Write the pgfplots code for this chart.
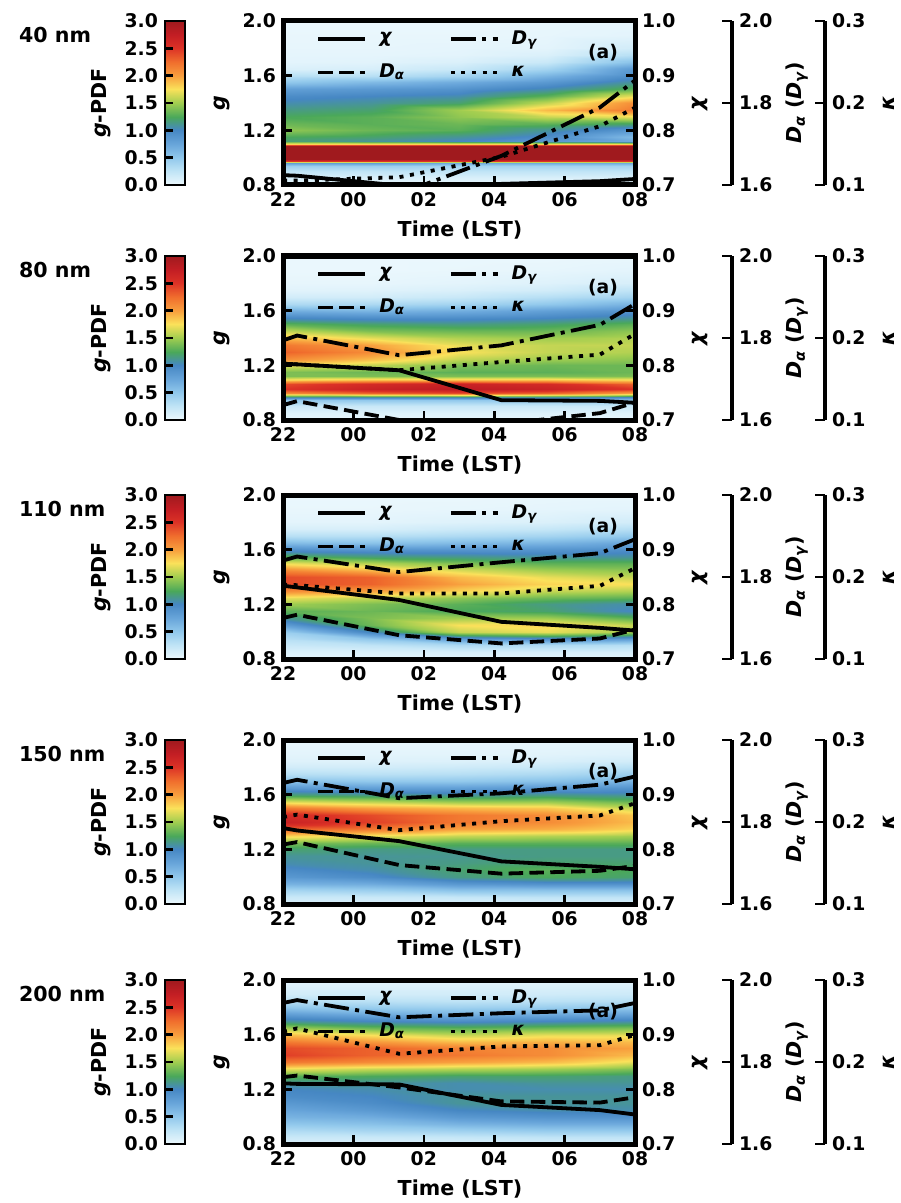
\documentclass[border=0pt]{standalone}
\usepackage{fontspec}
\setmainfont{DejaVu Sans}
\usepackage{pgfplots}
\pgfplotsset{compat=1.18}
\usepackage{pgfplotstable}

\newcommand\lab{\fontsize{10.3}{12}\selectfont\bfseries}
\newcommand\tck{\fontsize{9.4}{11}\selectfont\bfseries}

\pgfplotsset{
 colormap={gpdf}{rgb255=(236,248,253) rgb255=(192,228,246) rgb255=(146,201,236) rgb255=(104,165,218) rgb255=(70,135,195) rgb255=(74,168,90) rgb255=(160,205,80) rgb255=(250,225,90) rgb255=(248,160,62) rgb255=(240,110,45) rgb255=(220,50,38) rgb255=(195,30,36) rgb255=(160,26,30)},
 base/.style={scale only axis, width=176pt, height=82pt, xmin=0, xmax=10, anchor=south west},
 cbarpos/.style={scale only axis, width=10pt, height=82pt, xmin=0, xmax=1, anchor=south west},
 tk/.style={tick align=inside, major tick length=4.5pt, every tick/.style={black, line width=1.3pt}, tick label style={font=\tck}, /pgf/number format/assume math mode=true},
 onedec/.style={yticklabel style={/pgf/number format/.cd, fixed, fixed zerofill, precision=1, assume math mode=true}},
 mychi/.style={black, line width=1.9pt, solid},
 myda/.style={black, line width=1.9pt, dash pattern=on 7.2pt off 3.2pt},
 mydg/.style={black, line width=1.9pt, dash pattern=on 12.5pt off 3.2pt on 2pt off 3.2pt},
 mykap/.style={black, line width=1.9pt, dash pattern=on 2pt off 3.3pt},
 legend image code/.code={\draw[#1] (0pt,0pt) -- (23.5pt,0pt);},
}

\pgfplotstableread{
x y
0 0
1 0
0 0.25
1 0.25
0 0.5
1 0.5
0 0.75
1 0.75
0 1
1 1
0 1.25
1 1.25
0 1.5
1 1.5
0 1.75
1 1.75
0 2
1 2
0 2.25
1 2.25
0 2.5
1 2.5
0 2.75
1 2.75
0 3
1 3
}\cbartab

% ---- line data: t (h after 22 LST), chi, D_alpha, D_gamma, kappa
\pgfplotstableread{
t chi Da Dg k
0 0.718 1.55 1.55 0.1053
0.4 0.717 1.55 1.55 0.1053
3.3 0.699 1.55 1.578 0.1095
6.2 0.702 1.55 1.671 0.1343
9.0 0.707 1.55 1.789 0.1717
10 0.711 1.55 1.855 0.1943
}\linesA
\pgfplotstableread{
t chi Da Dg k
0 0.803 1.6363 1.794 0.1687
0.4 0.8018 1.646 1.806 0.1678
3.3 0.791 1.600 1.758 0.1607
6.2 0.7363 1.590 1.782 0.1707
9.0 0.735 1.6167 1.832 0.1797
10 0.7315 1.6427 1.883 0.205
}\linesB
\pgfplotstableread{
t chi Da Dg k
0 0.834 1.700 1.840 0.1908
0.4 0.831 1.708 1.850 0.1900
3.3 0.808 1.658 1.812 0.1800
6.2 0.768 1.638 1.836 0.1800
9.0 0.757 1.650 1.858 0.1892
10 0.752 1.672 1.892 0.2108
}\linesC
\pgfplotstableread{
t chi Da Dg k
0 0.839 1.745 1.895 0.206
0.4 0.8345 1.751 1.903 0.209
3.3 0.815 1.695 1.858 0.190
6.2 0.778 1.674 1.870 0.201
9.0 0.768 1.681 1.891 0.208
10 0.7635 1.693 1.911 0.223
}\linesD
\pgfplotstableread{
t chi Da Dg k
0 0.811 1.763 1.944 0.237
0.4 0.810 1.767 1.951 0.241
3.3 0.809 1.738 1.909 0.210
6.2 0.7715 1.704 1.919 0.219
9.0 0.762 1.701 1.926 0.2205
10 0.754 1.714 1.944 0.233
}\linesE

% ---- g-PDF fields: t g v
\pgfplotstableread{
t g v
0 0.80 0.05
2.5 0.80 0.05
5 0.80 0.05
7.5 0.80 0.05
10 0.80 0.05
0 0.85 0.10
2.5 0.85 0.10
5 0.85 0.10
7.5 0.85 0.10
10 0.85 0.10
0 0.90 0.25
2.5 0.90 0.25
5 0.90 0.25
7.5 0.90 0.25
10 0.90 0.25
0 0.94 0.45
2.5 0.94 0.45
5 0.94 0.40
7.5 0.94 0.40
10 0.94 0.40
0 0.96 0.80
2.5 0.96 0.80
5 0.96 0.70
7.5 0.96 0.70
10 0.96 0.70
0 0.975 2.5
2.5 0.975 2.5
5 0.975 2.5
7.5 0.975 2.5
10 0.975 2.5
0 0.99 3.8
2.5 0.99 3.8
5 0.99 3.8
7.5 0.99 3.8
10 0.99 3.8
0 1.05 4
2.5 1.05 4
5 1.05 4
7.5 1.05 4
10 1.05 4
0 1.085 3.8
2.5 1.085 3.8
5 1.085 3.8
7.5 1.085 3.8
10 1.085 3.8
0 1.10 1.8
2.5 1.10 1.8
5 1.10 1.8
7.5 1.10 1.8
10 1.10 1.8
0 1.12 1.2
2.5 1.12 1.1
5 1.12 1.0
7.5 1.12 0.85
10 1.12 0.7
0 1.15 1.25
2.5 1.15 1.2
5 1.15 1.1
7.5 1.15 0.95
10 1.15 0.6
0 1.20 1.45
2.5 1.20 1.35
5 1.20 1.3
7.5 1.20 1.1
10 1.20 0.85
0 1.25 1.35
2.5 1.25 1.3
5 1.25 1.35
7.5 1.25 1.3
10 1.25 1.2
0 1.30 1.25
2.5 1.30 1.3
5 1.30 1.45
7.5 1.30 1.6
10 1.30 1.7
0 1.35 1.15
2.5 1.35 1.2
5 1.35 1.5
7.5 1.35 1.9
10 1.35 2.2
0 1.40 1.05
2.5 1.40 1.1
5 1.40 1.2
7.5 1.40 1.6
10 1.40 2.1
0 1.45 0.95
2.5 1.45 1.0
5 1.45 1.05
7.5 1.45 1.3
10 1.45 1.7
0 1.50 0.8
2.5 1.50 0.85
5 1.50 0.9
7.5 1.50 1.05
10 1.50 1.3
0 1.55 0.5
2.5 1.55 0.6
5 1.55 0.7
7.5 1.55 0.85
10 1.55 1.1
0 1.60 0.3
2.5 1.60 0.3
5 1.60 0.4
7.5 1.60 0.65
10 1.60 0.95
0 1.65 0.1
2.5 1.65 0.12
5 1.65 0.2
7.5 1.65 0.4
10 1.65 0.85
0 1.70 0.05
2.5 1.70 0.06
5 1.70 0.1
7.5 1.70 0.2
10 1.70 0.55
0 1.75 0.04
2.5 1.75 0.04
5 1.75 0.05
7.5 1.75 0.1
10 1.75 0.3
0 1.80 0.03
2.5 1.80 0.03
5 1.80 0.04
7.5 1.80 0.05
10 1.80 0.15
0 1.90 0.02
2.5 1.90 0.02
5 1.90 0.02
7.5 1.90 0.03
10 1.90 0.05
0 2.00 0.01
2.5 2.00 0.01
5 2.00 0.01
7.5 2.00 0.02
10 2.00 0.03
}\heatA
\pgfplotstableread{
t g v
0 0.80 0.03
2.5 0.80 0.03
5 0.80 0.03
7.5 0.80 0.03
10 0.80 0.03
0 0.85 0.08
2.5 0.85 0.08
5 0.85 0.08
7.5 0.85 0.08
10 0.85 0.08
0 0.90 0.2
2.5 0.90 0.2
5 0.90 0.2
7.5 0.90 0.2
10 0.90 0.2
0 0.95 0.5
2.5 0.95 0.5
5 0.95 0.5
7.5 0.95 0.5
10 0.95 0.5
0 0.97 1.1
2.5 0.97 1.1
5 0.97 1.1
7.5 0.97 1.1
10 0.97 1.0
0 1.00 2.1
2.5 1.00 2.3
5 1.00 2.4
7.5 1.00 2.3
10 1.00 2.0
0 1.03 2.5
2.5 1.03 2.7
5 1.03 2.8
7.5 1.03 2.7
10 1.03 2.5
0 1.06 2.4
2.5 1.06 2.6
5 1.06 2.7
7.5 1.06 2.6
10 1.06 2.3
0 1.09 1.8
2.5 1.09 1.9
5 1.09 1.9
7.5 1.09 1.9
10 1.09 1.8
0 1.12 1.4
2.5 1.12 1.4
5 1.12 1.4
7.5 1.12 1.4
10 1.12 1.4
0 1.15 1.4
2.5 1.15 1.35
5 1.15 1.3
7.5 1.15 1.3
10 1.15 1.35
0 1.20 1.7
2.5 1.20 1.6
5 1.20 1.4
7.5 1.20 1.35
10 1.20 1.35
0 1.25 2.1
2.5 1.25 1.9
5 1.25 1.6
7.5 1.25 1.5
10 1.25 1.45
0 1.30 2.3
2.5 1.30 2.1
5 1.30 1.75
7.5 1.30 1.6
10 1.30 1.55
0 1.35 2.2
2.5 1.35 2.0
5 1.35 1.7
7.5 1.35 1.6
10 1.35 1.6
0 1.40 1.9
2.5 1.40 1.7
5 1.40 1.55
7.5 1.40 1.5
10 1.40 1.55
0 1.45 1.6
2.5 1.45 1.4
5 1.45 1.35
7.5 1.45 1.35
10 1.45 1.45
0 1.50 1.3
2.5 1.50 1.2
5 1.50 1.15
7.5 1.50 1.2
10 1.50 1.3
0 1.55 1.0
2.5 1.55 0.95
5 1.55 0.95
7.5 1.55 1.0
10 1.55 1.1
0 1.60 0.7
2.5 1.60 0.65
5 1.60 0.7
7.5 1.60 0.8
10 1.60 0.9
0 1.65 0.35
2.5 1.65 0.35
5 1.65 0.4
7.5 1.65 0.5
10 1.65 0.65
0 1.70 0.15
2.5 1.70 0.15
5 1.70 0.2
7.5 1.70 0.3
10 1.70 0.4
0 1.75 0.06
2.5 1.75 0.07
5 1.75 0.1
7.5 1.75 0.15
10 1.75 0.25
0 1.80 0.03
2.5 1.80 0.03
5 1.80 0.05
7.5 1.80 0.08
10 1.80 0.12
0 1.90 0.01
2.5 1.90 0.01
5 1.90 0.02
7.5 1.90 0.03
10 1.90 0.05
0 2.00 0.01
2.5 2.00 0.01
5 2.00 0.01
7.5 2.00 0.01
10 2.00 0.02
}\heatB
\pgfplotstableread{
t g v
0 0.80 0.04
2.5 0.80 0.04
5 0.80 0.05
7.5 0.80 0.05
10 0.80 0.05
0 0.85 0.10
2.5 0.85 0.10
5 0.85 0.12
7.5 0.85 0.12
10 0.85 0.12
0 0.90 0.20
2.5 0.90 0.25
5 0.90 0.35
7.5 0.90 0.35
10 0.90 0.30
0 0.95 0.30
2.5 0.95 0.50
5 0.95 0.80
7.5 0.95 0.90
10 0.95 0.80
0 1.00 0.45
2.5 1.00 1.0
5 1.00 1.6
7.5 1.00 1.7
10 1.00 1.5
0 1.05 0.80
2.5 1.05 1.35
5 1.05 1.75
7.5 1.05 1.8
10 1.05 1.6
0 1.10 1.1
2.5 1.10 1.4
5 1.10 1.5
7.5 1.10 1.5
10 1.10 1.3
0 1.15 1.3
2.5 1.15 1.35
5 1.15 1.25
7.5 1.15 1.2
10 1.15 1.0
0 1.20 1.5
2.5 1.20 1.4
5 1.20 1.3
7.5 1.20 1.15
10 1.20 1.05
0 1.25 1.7
2.5 1.25 1.6
5 1.25 1.45
7.5 1.25 1.35
10 1.25 1.3
0 1.30 2.1
2.5 1.30 2.0
5 1.30 1.8
7.5 1.30 1.6
10 1.30 1.55
0 1.35 2.4
2.5 1.35 2.3
5 1.35 2.0
7.5 1.35 1.8
10 1.35 1.75
0 1.40 2.4
2.5 1.40 2.3
5 1.40 1.9
7.5 1.40 1.7
10 1.40 1.6
0 1.45 2.1
2.5 1.45 1.9
5 1.45 1.65
7.5 1.45 1.5
10 1.45 1.45
0 1.50 1.7
2.5 1.50 1.55
5 1.50 1.4
7.5 1.50 1.3
10 1.50 1.3
0 1.55 1.3
2.5 1.55 1.2
5 1.55 1.15
7.5 1.55 1.1
10 1.55 1.1
0 1.60 0.95
2.5 1.60 0.9
5 1.60 0.9
7.5 1.60 0.9
10 1.60 0.95
0 1.65 0.6
2.5 1.65 0.55
5 1.65 0.6
7.5 1.65 0.65
10 1.65 0.75
0 1.70 0.3
2.5 1.70 0.3
5 1.70 0.35
7.5 1.70 0.4
10 1.70 0.5
0 1.75 0.12
2.5 1.75 0.12
5 1.75 0.18
7.5 1.75 0.22
10 1.75 0.3
0 1.80 0.05
2.5 1.80 0.05
5 1.80 0.08
7.5 1.80 0.1
10 1.80 0.15
0 1.90 0.02
2.5 1.90 0.02
5 1.90 0.03
7.5 1.90 0.04
10 1.90 0.05
0 2.00 0.01
2.5 2.00 0.01
5 2.00 0.01
7.5 2.00 0.02
10 2.00 0.02
}\heatC
\pgfplotstableread{
t g v
0 0.80 0.10
2.5 0.80 0.10
5 0.80 0.10
7.5 0.80 0.10
10 0.80 0.10
0 0.85 0.20
2.5 0.85 0.20
5 0.85 0.22
7.5 0.85 0.25
10 0.85 0.25
0 0.90 0.40
2.5 0.90 0.45
5 0.90 0.55
7.5 0.90 0.55
10 0.90 0.55
0 0.95 0.65
2.5 0.95 0.70
5 0.95 0.85
7.5 0.95 0.90
10 0.95 0.90
0 1.00 0.85
2.5 1.00 0.95
5 1.00 1.15
7.5 1.00 1.25
10 1.00 1.2
0 1.05 0.95
2.5 1.05 1.05
5 1.05 1.2
7.5 1.05 1.3
10 1.05 1.25
0 1.10 1.05
2.5 1.10 1.1
5 1.10 1.15
7.5 1.10 1.2
10 1.10 1.2
0 1.15 1.1
2.5 1.15 1.1
5 1.15 1.12
7.5 1.15 1.15
10 1.15 1.15
0 1.20 1.2
2.5 1.20 1.15
5 1.20 1.15
7.5 1.20 1.15
10 1.20 1.15
0 1.25 1.4
2.5 1.25 1.35
5 1.25 1.3
7.5 1.25 1.3
10 1.25 1.3
0 1.30 1.8
2.5 1.30 1.7
5 1.30 1.6
7.5 1.30 1.55
10 1.30 1.5
0 1.35 2.3
2.5 1.35 2.2
5 1.35 2.0
7.5 1.35 1.95
10 1.35 1.8
0 1.40 2.7
2.5 1.40 2.45
5 1.40 2.2
7.5 1.40 2.1
10 1.40 1.9
0 1.45 2.6
2.5 1.45 2.4
5 1.45 2.2
7.5 1.45 2.1
10 1.45 1.85
0 1.50 2.2
2.5 1.50 2.0
5 1.50 1.9
7.5 1.50 1.85
10 1.50 1.6
0 1.55 1.7
2.5 1.55 1.6
5 1.55 1.5
7.5 1.55 1.5
10 1.55 1.35
0 1.60 1.2
2.5 1.60 1.15
5 1.60 1.1
7.5 1.60 1.15
10 1.60 1.1
0 1.65 0.85
2.5 1.65 0.8
5 1.65 0.8
7.5 1.65 0.85
10 1.65 0.9
0 1.70 0.55
2.5 1.70 0.5
5 1.70 0.5
7.5 1.70 0.55
10 1.70 0.65
0 1.75 0.3
2.5 1.75 0.28
5 1.75 0.3
7.5 1.75 0.35
10 1.75 0.45
0 1.80 0.15
2.5 1.80 0.15
5 1.80 0.17
7.5 1.80 0.2
10 1.80 0.28
0 1.85 0.08
2.5 1.85 0.08
5 1.85 0.09
7.5 1.85 0.11
10 1.85 0.15
0 1.90 0.05
2.5 1.90 0.05
5 1.90 0.05
7.5 1.90 0.06
10 1.90 0.08
0 2.00 0.02
2.5 2.00 0.02
5 2.00 0.02
7.5 2.00 0.02
10 2.00 0.03
}\heatD
\pgfplotstableread{
t g v
0 0.80 0.10
2.5 0.80 0.10
5 0.80 0.10
7.5 0.80 0.12
10 0.80 0.12
0 0.85 0.20
2.5 0.85 0.20
5 0.85 0.22
7.5 0.85 0.25
10 0.85 0.25
0 0.90 0.35
2.5 0.90 0.40
5 0.90 0.45
7.5 0.90 0.50
10 0.90 0.50
0 0.95 0.50
2.5 0.95 0.55
5 0.95 0.65
7.5 0.95 0.70
10 0.95 0.70
0 1.00 0.65
2.5 1.00 0.70
5 1.00 0.85
7.5 1.00 0.90
10 1.00 0.90
0 1.05 0.75
2.5 1.05 0.85
5 1.05 1.0
7.5 1.05 1.05
10 1.05 1.05
0 1.10 0.85
2.5 1.10 0.95
5 1.10 1.1
7.5 1.10 1.1
10 1.10 1.1
0 1.15 0.95
2.5 1.15 1.0
5 1.15 1.1
7.5 1.15 1.1
10 1.15 1.1
0 1.20 1.0
2.5 1.20 1.05
5 1.20 1.05
7.5 1.20 1.05
10 1.20 1.05
0 1.25 1.1
2.5 1.25 1.1
5 1.25 1.05
7.5 1.25 1.1
10 1.25 1.1
0 1.30 1.3
2.5 1.30 1.25
5 1.30 1.2
7.5 1.30 1.2
10 1.30 1.15
0 1.35 1.7
2.5 1.35 1.6
5 1.35 1.55
7.5 1.35 1.5
10 1.35 1.4
0 1.40 2.2
2.5 1.40 2.1
5 1.40 2.0
7.5 1.40 1.9
10 1.40 1.7
0 1.45 2.45
2.5 1.45 2.3
5 1.45 2.2
7.5 1.45 2.1
10 1.45 1.9
0 1.50 2.4
2.5 1.50 2.3
5 1.50 2.15
7.5 1.50 2.1
10 1.50 2.0
0 1.55 2.2
2.5 1.55 2.05
5 1.55 1.9
7.5 1.55 1.95
10 1.55 1.9
0 1.60 1.9
2.5 1.60 1.75
5 1.60 1.6
7.5 1.60 1.7
10 1.60 1.7
0 1.65 1.5
2.5 1.65 1.35
5 1.65 1.3
7.5 1.65 1.35
10 1.65 1.4
0 1.70 1.1
2.5 1.70 1.0
5 1.70 0.95
7.5 1.70 1.0
10 1.70 1.05
0 1.75 0.8
2.5 1.75 0.7
5 1.75 0.65
7.5 1.75 0.7
10 1.75 0.75
0 1.80 0.5
2.5 1.80 0.45
5 1.80 0.42
7.5 1.80 0.45
10 1.80 0.5
0 1.85 0.3
2.5 1.85 0.28
5 1.85 0.26
7.5 1.85 0.28
10 1.85 0.3
0 1.90 0.15
2.5 1.90 0.15
5 1.90 0.15
7.5 1.90 0.16
10 1.90 0.18
0 2.00 0.05
2.5 2.00 0.05
5 2.00 0.05
7.5 2.00 0.05
10 2.00 0.06
}\heatE

\newcommand{\Panel}[4]{%
\pgfmathsetmacro\yb{-(#1+164)*0.5}%
\pgfmathsetmacro\ymid{-(#1+82)*0.5}%
\pgfmathsetmacro\ytop{-(#1+14)*0.5}%
\pgfmathsetmacro\ytime{-(#1+209)*0.5}%
% colorbar gradient
\begin{axis}[cbarpos, at={(82.5pt,\yb pt)}, hide axis, view={0}{90}, ymin=0, ymax=3, point meta min=0, point meta max=3]
\addplot3[surf, shader=interp, mesh/cols=2, point meta=z] table[x=x,y=y,z=y] {\cbartab};
\end{axis}
% colorbar frame
\begin{axis}[cbarpos, at={(82.5pt,\yb pt)}, ymin=0, ymax=3, xtick=\empty, ytick={0,0.5,1,1.5,2,2.5,3}, ytick pos=left, tk, major tick length=4pt, onedec, axis line style={line width=1.4pt}]
\end{axis}
% heat map
\begin{axis}[base, at={(141.5pt,\yb pt)}, view={0}{90}, hide axis, ymin=0.8, ymax=2.0, point meta min=0, point meta max=3]
\addplot3[surf, shader=interp, mesh/cols=5, point meta=z] table[x=t,y=g,z=v] {#3};
\end{axis}
% chi axis
\begin{axis}[base, at={(141.5pt,\yb pt)}, ymin=0.7, ymax=1.0, ytick={0.7,0.8,0.9,1.0}, axis y line*=right, hide x axis, tk, onedec, axis line style={line width=2.5pt}]
\addplot[mychi] table[x=t,y=chi] {#4};
\end{axis}
% D axis (overlay)
\begin{axis}[base, at={(141.5pt,\yb pt)}, ymin=1.6, ymax=2.0, hide axis]
\addplot[myda] table[x=t,y=Da] {#4};
\addplot[mydg] table[x=t,y=Dg] {#4};
\end{axis}
% kappa axis (overlay) + legend
\begin{axis}[base, at={(141.5pt,\yb pt)}, ymin=0.1, ymax=0.3, hide axis,
  legend columns=2, legend cell align=left,
  legend style={draw=none, fill=none, at={(0.094,0.957)}, anchor=north west, inner sep=0pt, font=\tck, row sep=6.5pt, nodes={inner sep=1pt},
   /tikz/every odd column/.append style={column sep=5pt},
   /tikz/every even column/.append style={column sep=21pt}}]
\addlegendimage{mychi}\addlegendentry{\textit{χ}}
\addlegendimage{mydg}\addlegendentry{\textit{D\textsubscript{γ}}}
\addlegendimage{myda}\addlegendentry{\textit{D\textsubscript{α}}}
\addplot[mykap] table[x=t,y=k] {#4};
\addlegendentry{\textit{κ}}
\end{axis}
% frame
\begin{axis}[base, at={(141.5pt,\yb pt)}, ymin=0.8, ymax=2.0, ytick={0.8,1.2,1.6,2.0}, ytick pos=left,
  xtick={0,2,4,6,8,10}, xticklabels={22,00,02,04,06,08}, xtick pos=bottom, tk, onedec, axis line style={line width=2.5pt}]
\node[font=\tck] at (rel axis cs:0.909,0.81) {(a)};
\end{axis}
% offset spines
\begin{axis}[scale only axis, anchor=south west, at={(365pt,\yb pt)}, width=1pt, height=82pt, xmin=0, xmax=1, ymin=1.6, ymax=2.0, ytick={1.6,1.8,2.0}, hide x axis, axis y line*=right, tk, major tick length=5pt, onedec, axis line style={line width=1.9pt}]
\end{axis}
\begin{axis}[scale only axis, anchor=south west, at={(411.5pt,\yb pt)}, width=1pt, height=82pt, xmin=0, xmax=1, ymin=0.1, ymax=0.3, ytick={0.1,0.2,0.3}, hide x axis, axis y line*=right, tk, major tick length=5pt, onedec, axis line style={line width=1.9pt}]
\end{axis}
% labels
\node[font=\lab, anchor=west] at (6pt,\ytop pt) {#2};
\node[font=\lab, rotate=90] at (50.5pt,\ymid pt) {\textit{g}-PDF};
\node[font=\lab, rotate=90] at (111pt,\ymid pt) {\textit{g}};
\node[font=\lab, rotate=90] at (350pt,\ymid pt) {\textit{χ}};
\node[font=\lab, rotate=90] at (398.5pt,\ymid pt) {\textit{D\textsubscript{α}} (\textit{D\textsubscript{γ}})};
\node[font=\lab, rotate=90] at (444.5pt,\ymid pt) {\textit{κ}};
\node[font=\lab] at (230pt,\ytime pt) {Time (LST)};
}

\begin{document}
\begin{tikzpicture}
\path[use as bounding box] (0,0) rectangle (450pt,-601.5pt);
\Panel{21}{40 nm}{\heatA}{\linesA}
\Panel{256}{80 nm}{\heatB}{\linesB}
\Panel{495}{110 nm}{\heatC}{\linesC}
\Panel{740}{150 nm}{\heatD}{\linesD}
\Panel{980}{200 nm}{\heatE}{\linesE}
\end{tikzpicture}
\end{document}
